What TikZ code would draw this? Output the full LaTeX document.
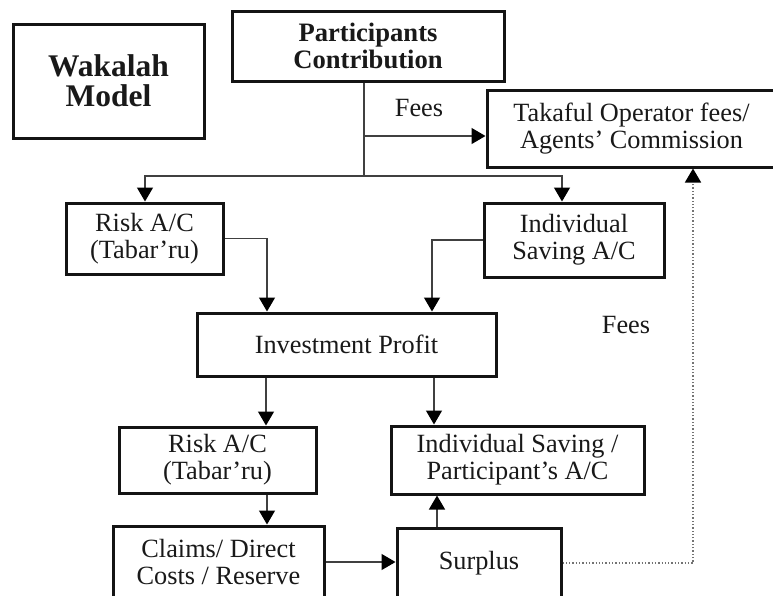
\documentclass[tikz,border=0pt]{standalone}
\usepackage{fontspec}
\setmainfont{Liberation Serif}
\usetikzlibrary{arrows.meta}
\begin{document}
\begin{tikzpicture}[x=1pt,y=-1pt,
  box/.style={draw=black!92, line width=3pt, rectangle, inner sep=0pt,
    align=center, text=black!90,
    font=\fontsize{26.3}{27}\selectfont},
  titlebox/.style={box, font=\fontsize{26.6}{26.5}\selectfont\bfseries},
  bigbox/.style={box, font=\fontsize{31.5}{30}\selectfont\bfseries},
  link/.style={draw=black!75, line width=1.3pt,
    -{Triangle[length=14pt,width=16pt,color=black]}},
  plain/.style={draw=black!75, line width=1.3pt},
  lbl/.style={inner sep=0pt, text=black!90, font=\fontsize{26.3}{27}\selectfont}]
\clip (0,0) rectangle (773,595);
\fill[white] (0,0) rectangle (773,595);

% boxes
\node[bigbox, minimum width=191pt, minimum height=114pt] (wak) at (108.5,81) {Wakalah\\Model};
\node[titlebox, minimum width=272pt, minimum height=70pt] (part) at (368,46) {Participants\\Contribution};
\node[box, minimum width=289pt, minimum height=77pt] (tak) at (631.5,128.5) {Takaful Operator fees/\\Agents’ Commission};
\node[box, minimum width=157pt, minimum height=71pt] (risk1) at (144.5,238.5) {Risk A/C\\(Tabar’ru)};
\node[box, minimum width=180pt, minimum height=74pt] (ind1) at (574,240) {Individual\\Saving A/C};
\node[box, minimum width=299pt, minimum height=63pt] (inv) at (346.5,344.5) {Investment Profit};
\node[box, minimum width=197pt, minimum height=66pt] (risk2) at (217.5,460) {Risk A/C\\(Tabar’ru)};
\node[box, minimum width=253pt, minimum height=68pt] (ind2) at (517.5,460) {Individual Saving /\\Participant’s A/C};
\node[box, minimum width=211pt, minimum height=72pt] (claims) at (218.5,562) {Claims/ Direct\\Costs / Reserve};
\node[box, minimum width=164pt, minimum height=70pt] (surplus) at (479,563) {Surplus};

% labels
\node[lbl] (fees1) at (419,108) {Fees};
\node[lbl] (fees2) at (626,325) {Fees};

% split of the contribution
\coordinate (jf) at (364,136);
\coordinate (j) at (364,176);
\coordinate (jl) at (145,176);
\coordinate (jr) at (562,176);
\draw[plain] (part.south -| j) -- (j);
\draw[link] (jf) -- (jf -| tak.west);
\draw[link] (j) -- (jl) -- (jl |- risk1.north);
\draw[link] (j) -- (jr) -- (jr |- ind1.north);

% into investment profit
\draw[link] (risk1.east) -| ([xshift=-79.5pt]inv.north);
\draw[link] (ind1.west) -| ([xshift=85.5pt]inv.north);

% out of investment profit
\draw[link] ([xshift=-80.5pt]inv.south) -- ([xshift=-80.5pt]inv.south |- risk2.north);
\draw[link] ([xshift=87.5pt]inv.south) -- ([xshift=87.5pt]inv.south |- ind2.north);

% lower flow
\draw[link] ([xshift=49.5pt]risk2.south) -- ([xshift=49.5pt]risk2.south |- claims.north);
\draw[link] (claims.east) -- (claims.east -| surplus.west);
\draw[link] ([xshift=-42pt]surplus.north) -- ([xshift=-42pt]surplus.north |- ind2.south);
\draw[link, draw=black!55, dotted, line width=1.5pt] (surplus.east) -| ([xshift=61.5pt]tak.south);
\end{tikzpicture}
\end{document}
